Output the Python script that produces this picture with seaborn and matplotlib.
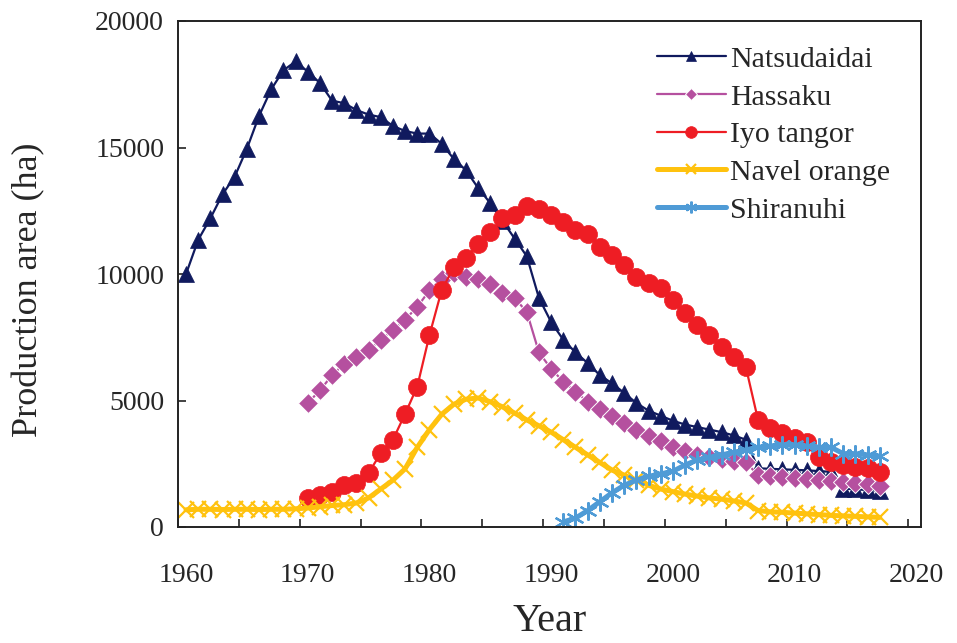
import numpy as np
import pandas as pd
import matplotlib
matplotlib.use("Agg")
import matplotlib.pyplot as plt
import seaborn as sns

# Production area (ha) of citrus varieties by year
years_natsudaidai = list(range(1960, 2018))
natsudaidai = [10000, 11350, 12200, 13150, 13850, 14950, 16250, 17300, 18050, 18400,
               18000, 17550, 16850, 16750, 16480, 16300, 16200, 15850, 15650, 15550,
               15550, 15150, 14550, 14100, 13400, 12800, 12100, 11400, 10700, 9050,
               8100, 7400, 6900, 6480, 6000, 5680, 5300, 4900, 4600, 4400,
               4200, 4050, 3950, 3850, 3750, 3620, 3450, 2320, 2300, 2280,
               2260, 2240, 2210, 2180, 1520, 1490, 1460, 1440]

years_hassaku = list(range(1970, 2018))
hassaku = [4900, 5400, 6000, 6450, 6700, 7000, 7400, 7800, 8200, 8700,
           9350, 9800, 10050, 9900, 9800, 9600, 9250, 9050, 8500, 6900,
           6250, 5750, 5350, 4950, 4650, 4380, 4120, 3850, 3580, 3380,
           3180, 3000, 2850, 2750, 2680, 2620, 2560, 2050, 2000, 1960,
           1920, 1880, 1840, 1800, 1760, 1720, 1680, 1640]

years_iyo = list(range(1970, 2018))
iyo_tangor = [1150, 1260, 1380, 1650, 1750, 2130, 2920, 3450, 4470, 5550,
              7580, 9350, 10270, 10620, 11200, 11650, 12200, 12320, 12700, 12580,
              12330, 12050, 11750, 11600, 11080, 10740, 10350, 9900, 9640, 9440,
              8970, 8450, 7980, 7580, 7120, 6720, 6320, 4230, 3900, 3700,
              3520, 3360, 2780, 2580, 2450, 2380, 2330, 2180]

years_navel = list(range(1960, 2018))
navel_orange = [680, 700, 700, 690, 700, 700, 690, 700, 700, 720,
                750, 800, 850, 880, 950, 1150, 1500, 1850, 2300, 3150,
                3850, 4450, 4850, 5050, 5100, 4950, 4750, 4500, 4230, 4000,
                3750, 3450, 3150, 2850, 2550, 2250, 2050, 1850, 1650, 1500,
                1400, 1300, 1220, 1150, 1100, 1030, 950, 650, 600, 580,
                550, 520, 490, 460, 440, 420, 400, 380]

years_shiranuhi = list(range(1991, 2018))
shiranuhi = [200, 350, 650, 1000, 1350, 1650, 1850, 2000, 2100, 2200,
             2450, 2650, 2750, 2850, 2950, 3050, 3150, 3200, 3250, 3250,
             3200, 3150, 3150, 2900, 2900, 2850, 2800]

x_tick_labels = [1960, 1970, 1980, 1990, 2000, 2010, 2020]
y_tick_labels = [0, 5000, 10000, 15000, 20000]

sns.set_style("white")
plt.rcParams["font.family"] = ["Liberation Serif", "DejaVu Serif"]

fig = plt.figure(figsize=(9.57, 6.43), dpi=100)
ax = fig.add_axes([178 / 957, 116 / 643, 743 / 957, 506 / 643])

NAVY, PURPLE, RED, GOLD, SKY = "#101A5E", "#B5509F", "#EE1D24", "#FFC20E", "#4F9BD6"

series = [
    ("Natsudaidai", years_natsudaidai, natsudaidai,
     dict(color=NAVY, linewidth=1.6, marker="^", markersize=12,
          markeredgecolor=NAVY, markeredgewidth=0.5)),
    ("Hassaku", years_hassaku, hassaku,
     dict(color=PURPLE, linewidth=1.6, marker="D", markersize=10,
          markeredgecolor="white", markeredgewidth=0.7)),
    ("Iyo tangor", years_iyo, iyo_tangor,
     dict(color=RED, linewidth=1.6, marker="o", markersize=13,
          markeredgecolor=RED, markeredgewidth=0.5)),
    ("Navel orange", years_navel, navel_orange,
     dict(color=GOLD, linewidth=3.6, marker="x", markersize=12,
          markeredgecolor=GOLD, markeredgewidth=1.6)),
    ("Shiranuhi", years_shiranuhi, shiranuhi,
     dict(color=SKY, linewidth=3.6, marker=(6, 2, 0), markersize=13,
          markeredgecolor=SKY, markeredgewidth=1.6)),
]

for name, xs, ys, style in series:
    df = pd.DataFrame({"Year": xs, "Area": ys})
    sns.lineplot(data=df, x="Year", y="Area", ax=ax, label=name, **style)

ax.set_xlim(1959.42, 2020.39)
ax.set_ylim(0, 20000)

# labelled years, tick marks drawn separately every five years
ax.set_xticks(x_tick_labels)
ax.set_xticklabels([str(v) for v in x_tick_labels])
ax.set_xticks(np.arange(1960, 2021, 5) - 0.66, minor=True)
ax.tick_params(axis="x", which="major", length=0, pad=26, labelsize=20)
ax.tick_params(axis="x", which="minor", direction="in", length=6, width=1.2,
               color="#222222", bottom=True)

ax.set_yticks(y_tick_labels)
ax.set_yticklabels([str(v) for v in y_tick_labels])
ax.tick_params(axis="y", which="major", direction="in", length=6, width=1.2,
               color="#222222", pad=10, labelsize=20, left=True)

for sp in ax.spines.values():
    sp.set_color("#222222")
    sp.set_linewidth(1.4)

ax.set_xlabel("Year", fontsize=29, labelpad=11)
ax.set_ylabel("Production area (ha)", fontsize=26)
ax.yaxis.set_label_coords(-0.178, 0.468)

leg = ax.legend(loc="upper left", bbox_to_anchor=(657 / 957, 1 - 46 / 643),
                bbox_transform=fig.transFigure, frameon=False, fontsize=21.5,
                handlelength=2.3, handletextpad=0.15, labelspacing=0.36,
                borderpad=0, borderaxespad=0, markerscale=0.65)

fig.savefig("out.png", dpi=100)
